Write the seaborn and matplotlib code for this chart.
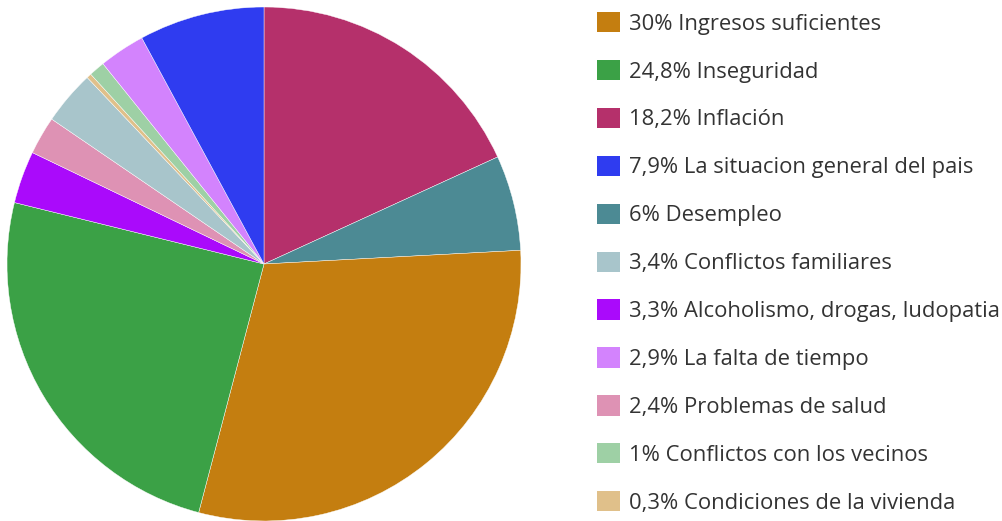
import matplotlib
matplotlib.use("Agg")
import matplotlib.pyplot as plt
import seaborn as sns
from matplotlib.patches import Patch

sns.set_theme(style="white")
plt.rcParams['font.family'] = ['Open Sans', 'DejaVu Sans']

# slices in drawing order (clockwise from 12 o'clock)
categories = ["Inflación", "Desempleo", "Ingresos suficientes", "Inseguridad",
              "Alcoholismo, drogas, ludopatia", "Problemas de salud",
              "Conflictos familiares", "Condiciones de la vivienda",
              "Conflictos con los vecinos", "La falta de tiempo",
              "La situacion general del pais"]
values = [18.2, 6, 30, 24.8, 3.3, 2.4, 3.4, 0.3, 1, 2.9, 7.9]
colors = ["#b5306b", "#4c8a94", "#c47e10", "#3ba146", "#aa0afb", "#de92b4",
          "#a8c5cb", "#e0c08a", "#9ed0a5", "#d383fd", "#2f3cf0"]

# legend order (largest first)
legend_order = ["Ingresos suficientes", "Inseguridad", "Inflación",
                "La situacion general del pais", "Desempleo",
                "Conflictos familiares", "Alcoholismo, drogas, ludopatia",
                "La falta de tiempo", "Problemas de salud",
                "Conflictos con los vecinos", "Condiciones de la vivienda"]


def fmt(v):
    s = f"{v:g}".replace(".", ",")
    return s + "%"


fig = plt.figure(figsize=(10.02, 5.21), dpi=100)
ax = fig.add_axes([7 / 1002, 0, 514 / 1002, 514 / 521])
ax.pie(values, colors=colors, startangle=90, counterclock=False,
       wedgeprops=dict(edgecolor="white", linewidth=0.3))
ax.set_xlim(-1, 1)
ax.set_ylim(-1, 1)
ax.set_aspect("equal")
ax.axis("off")

col = dict(zip(categories, colors))
val = dict(zip(categories, values))
handles = [Patch(facecolor=col[c], edgecolor="none") for c in legend_order]
labels = [f"{fmt(val[c])} {c}" for c in legend_order]
fig.legend(handles, labels, loc="upper left",
           bbox_to_anchor=(597 / 1002, 1 - 12 / 521),
           frameon=False, fontsize=15.8, handlelength=1.05, handleheight=1.05,
           handletextpad=0.42, labelspacing=1.15, borderaxespad=0, borderpad=0,
           labelcolor="#333333")

fig.savefig("out.png", dpi=100)
